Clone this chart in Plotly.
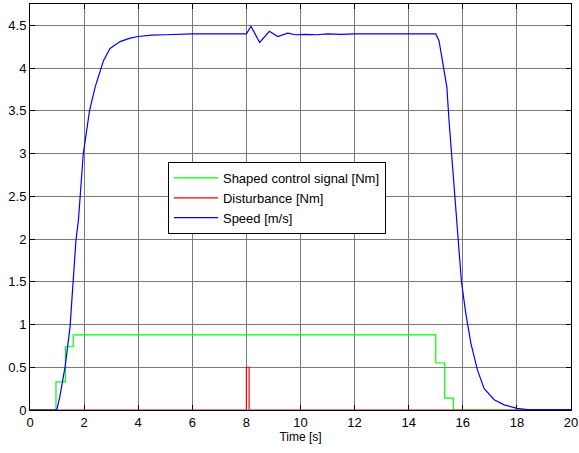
import plotly.graph_objects as go

# shaped control signal (step changes)
control_t = [0, 0.96, 1.31, 1.6, 15.0, 15.33, 15.65, 20]
control_v = [0, 0.33, 0.74, 0.88, 0.55, 0.14, 0, 0]

# disturbance pulse
dist_t = [0, 8.0, 8.1, 20]
dist_v = [0, 0.5, 0, 0]

# speed
speed_t = [0, 0.99, 1.1, 1.3, 1.48, 1.6, 1.7, 1.79, 1.88, 1.97, 2.2, 2.41, 2.72,
           2.96, 3.33, 3.7, 4.0, 4.5, 5.0, 6.0, 7.0, 8.0, 8.17, 8.49, 8.85, 9.16,
           9.53, 9.81, 10.2, 10.6, 11.0, 11.5, 12.0, 13.0, 14.0, 15.0, 15.12,
           15.31, 15.41, 15.49, 15.58, 15.66, 15.74, 15.8, 15.95, 16.11, 16.3,
           16.54, 16.79, 17.16, 17.53, 18.0, 18.3, 18.4, 20]
speed_v = [0, 0, 0.15, 0.51, 0.97, 1.5, 1.99, 2.22, 2.61, 3.0, 3.5, 3.78, 4.09,
           4.23, 4.31, 4.35, 4.37, 4.385, 4.39, 4.4, 4.4, 4.4, 4.49, 4.30, 4.43, 4.37,
           4.41, 4.39, 4.395, 4.39, 4.4, 4.395, 4.4, 4.4, 4.4, 4.4, 4.32,
           3.97, 3.78, 3.39, 3.0, 2.73, 2.35, 2.06, 1.5, 1.13, 0.78,
           0.47, 0.25, 0.12, 0.06, 0.02, 0.015, 0.005, 0.005]

x_ticks = list(range(0, 21, 2))
y_ticks = [0, 0.5, 1, 1.5, 2, 2.5, 3, 3.5, 4, 4.5]
y_labels = ["0", "0.5", "1", "1.5", "2", "2.5", "3", "3.5", "4", "4.5"]

fig = go.Figure()
fig.add_trace(go.Scatter(x=control_t, y=control_v, mode="lines", line_shape="hv",
                         name="Shaped control signal [Nm]",
                         line=dict(color="#00ff00", width=1.2)))
fig.add_trace(go.Scatter(x=dist_t, y=dist_v, mode="lines", line_shape="hv",
                         name="Disturbance [Nm]",
                         line=dict(color="#ff0000", width=1.2)))
fig.add_trace(go.Scatter(x=speed_t, y=speed_v, mode="lines",
                         name="Speed [m/s]",
                         line=dict(color="#0000ff", width=1.2)))

axis_style = dict(showline=True, linecolor="black", linewidth=1, mirror="ticks",
                  ticks="inside", ticklen=5, tickcolor="black",
                  showgrid=True, gridcolor="#7a7a7a", gridwidth=1,
                  zeroline=False, automargin=False, layer="below traces",
                  tickfont=dict(size=13, color="black"))

fig.update_xaxes(range=[0, 20], tickvals=x_ticks, **axis_style,
                 title=dict(text="Time [s]", font=dict(size=12, color="black"), standoff=4))
fig.update_yaxes(range=[0, 4.75], tickvals=y_ticks, ticktext=y_labels, **axis_style)

fig.update_layout(
    width=579, height=453,
    margin=dict(l=30, r=8, t=4, b=43, autoexpand=False),
    paper_bgcolor="white", plot_bgcolor="white",
    font=dict(family="Liberation Sans, Arial", size=12, color="black"),
    legend=dict(x=0.255, y=0.611, xanchor="left", yanchor="top",
                bgcolor="white", bordercolor="black", borderwidth=1,
                font=dict(size=13), tracegroupgap=0, itemwidth=44),
)

# page body has an 8px default margin; drop it so the figure sits at the corner
fig.write_html("out.html", config={"displayModeBar": False},
               post_script="document.body.style.margin='0px';")
